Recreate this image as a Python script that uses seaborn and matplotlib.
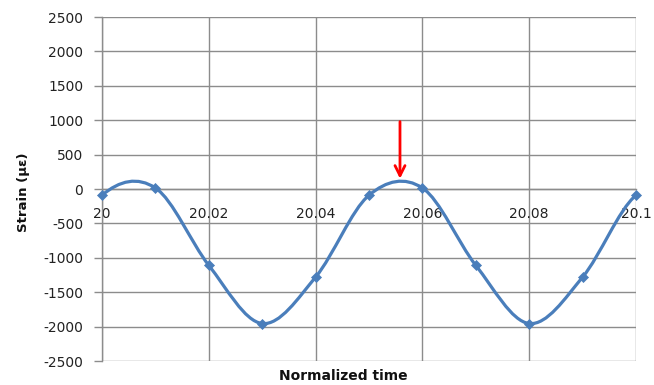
import numpy as np
import matplotlib
matplotlib.use("Agg")
import matplotlib.pyplot as plt
from matplotlib.path import Path
from matplotlib.patches import PathPatch
import seaborn as sns
import pandas as pd

# Sampled strain readings (one sample every 0.01 of normalized time)
time = [20.00, 20.01, 20.02, 20.03, 20.04, 20.05, 20.06, 20.07, 20.08, 20.09, 20.10]
strain = [-90, 15, -1110, -1955, -1280, -90, 15, -1110, -1955, -1280, -90]
# neighbouring samples just outside the displayed window (shape the curve ends)
time_before, strain_before = 19.99, -1280
time_after, strain_after = 20.11, 15

x_ticks = [20.00, 20.02, 20.04, 20.06, 20.08, 20.10]
x_tick_labels = ["20", "20.02", "20.04", "20.06", "20.08", "20.1"]
y_ticks = list(range(-2500, 2501, 500))

peak_time = 20.0558
arrow_from, arrow_to = 980, 150

line_color = "#4A7EBB"
grid_color = "#8C8C8C"

sns.set_style("white")
plt.rcParams["font.family"] = ["DejaVu Sans"]

fig = plt.figure(figsize=(6.54, 3.85), dpi=100)
ax = fig.add_axes([0.156, 0.0623, 0.9725 - 0.156, 0.9558 - 0.0623])

df = pd.DataFrame({"time": time, "strain": strain})

# Smoothed line: cubic Bezier segments through the samples (Catmull-Rom style)
xs = [time_before] + time + [time_after]
ys = [strain_before] + strain + [strain_after]
verts = [(xs[1], ys[1])]
codes = [Path.MOVETO]
for i in range(1, len(xs) - 2):
    c1 = (xs[i] + (xs[i + 1] - xs[i - 1]) / 6, ys[i] + (ys[i + 1] - ys[i - 1]) / 6)
    c2 = (xs[i + 1] - (xs[i + 2] - xs[i]) / 6, ys[i + 1] - (ys[i + 2] - ys[i]) / 6)
    verts += [c1, c2, (xs[i + 1], ys[i + 1])]
    codes += [Path.CURVE4] * 3
ax.add_patch(PathPatch(Path(verts, codes), facecolor="none", edgecolor=line_color,
                       lw=2.3, zorder=3, capstyle="round", joinstyle="round"))

sns.scatterplot(data=df, x="time", y="strain", marker="D", s=26, color=line_color,
                edgecolor=line_color, linewidth=0.5, zorder=4, ax=ax, clip_on=False)

ax.set_xlim(20.0, 20.1)
ax.set_ylim(-2500, 2500)
ax.set_xticks(x_ticks)
ax.set_xticklabels(x_tick_labels)
ax.set_yticks(y_ticks)
ax.set_yticklabels([str(v) for v in y_ticks])

ax.grid(True, color=grid_color, lw=1.0)
ax.set_axisbelow(True)
for side in ["top", "right"]:
    ax.spines[side].set_visible(False)
ax.spines["bottom"].set_position(("data", 0))
ax.spines["bottom"].set_color(grid_color)
ax.spines["left"].set_color(grid_color)
ax.spines["left"].set_linewidth(1.0)
ax.spines["bottom"].set_linewidth(1.0)

ax.tick_params(axis="y", which="major", direction="out", length=5.5, width=1.0,
               color=grid_color, pad=8, labelsize=10, labelcolor="#222222", left=True)
ax.tick_params(axis="x", which="major", length=0, pad=13, labelsize=10,
               labelcolor="#222222")

ax.set_xlabel("Normalized time", fontsize=10, fontweight="bold", color="#111111")
ax.xaxis.set_label_coords(0.451, -0.022)
ax.set_ylabel("Strain (\u03bc\u03b5)", fontsize=9.5, fontweight="bold", color="#111111")
ax.yaxis.set_label_coords(-0.135, 0.49)

ax.annotate("", xy=(peak_time, arrow_to), xytext=(peak_time, arrow_from),
            arrowprops=dict(arrowstyle="->", color="red", lw=2.0,
                            mutation_scale=18, shrinkA=0, shrinkB=0), zorder=5)

fig.savefig("out.png", dpi=100)
